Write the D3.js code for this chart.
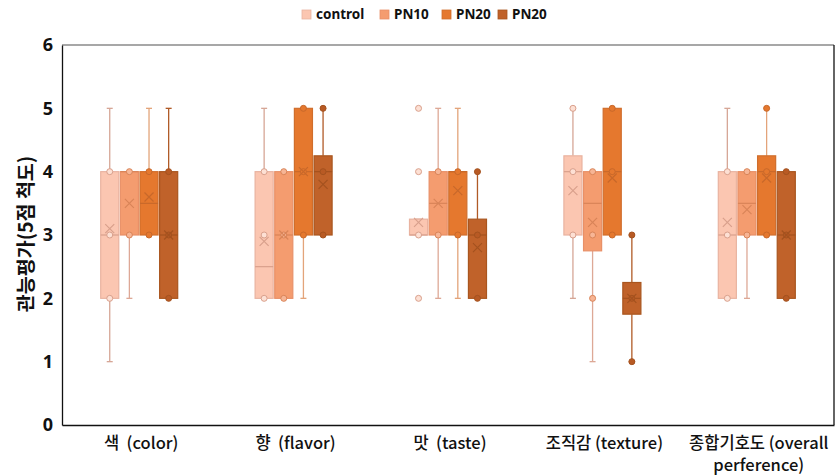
<!DOCTYPE html>
<html><head><meta charset="utf-8">
<script src="https://cdn.jsdelivr.net/npm/d3@7"></script>
<style>
html,body{margin:0;padding:0;background:#fff;}
text{font-family:"Noto Sans CJK KR","Noto Sans",sans-serif;}
</style></head>
<body>
<svg id="chart" width="838" height="476"></svg>
<script>
const categories = ["색\u00a0\u00a0(color)", "향\u00a0\u00a0(flavor)", "맛\u00a0\u00a0(taste)", "조직감 (texture)", "종합기호도 (overall|perference)"];
const seriesNames = ["control", "PN10", "PN20", "PN20"];
const yTicks = [0, 1, 2, 3, 4, 5, 6];

// per-series stats, one value per category
const whiskerLow  = [[1,2,3,2,2],[2,2,2,1,2],[3,2,2,3,3],[2,3,2,1,2]];
const q1          = [[2,2,3,3,2],[3,2,3,2.75,3],[3,3,3,3,3],[2,3,2,1.75,2]];
const median      = [[3,2.5,3,4,3],[4,3,3.5,3.5,3.5],[3.5,4,4,4,4],[3,4,3,2,3]];
const q3          = [[4,4,3.25,4.25,4],[4,4,4,4,4],[4,5,4,5,4.25],[4,4.25,3.25,2.25,4]];
const whiskerHigh = [[5,5,3.25,5,5],[4,4,5,4,4],[5,5,5,5,5],[5,5,4,3,4]];
const means       = [[3.1,2.9,3.2,3.7,3.2],[3.5,3,3.5,3.2,3.4],[3.6,4,3.7,3.9,3.9],[3,3.8,2.8,2,3]];
const points      = [
  [[4,3,2],[4,3,2],[5,4,3,2],[5,4,3],[4,3,2]],
  [[4,3],[4,3,2],[4,3],[4,3,2],[4,3]],
  [[4,3],[5,4,3],[4,3],[5,4,3],[5,4,3]],
  [[4,3,2],[5,4,3],[4,3,2],[3,2,1],[4,3,2]]
];

const fills   = ["#FBC6B1", "#F49C6F", "#E5782E", "#C0622A"];
const strokes = ["#E9B3A0", "#E89068", "#D06E2C", "#A9561F"];
const darkLn  = ["#D9A08C", "#D98458", "#C8682A", "#A4521F"];
const whiskC  = ["#D6A696", "#DDA896", "#E3A47A", "#B05A26"];
const ptFill  = ["#FDE0D4", "#F7B595", "#E5782E", "#B85A24"];

const svg = d3.select("#chart");
const L = 62, R = 834, T = 45, B = 425;

const x = d3.scaleBand().domain(d3.range(categories.length)).range([L, R]);
const inner = d3.scaleBand().domain(d3.range(seriesNames.length)).range([-38.5, 38.5]).paddingInner(0.08);
const y = d3.scaleLinear().domain([0, 6]).range([B, T]);

// frame
svg.append("line").attr("x1", L).attr("x2", R).attr("y1", T).attr("y2", T).attr("stroke", "#8a8a8a").attr("stroke-width", 1.3);
svg.append("line").attr("x1", R).attr("x2", R).attr("y1", T).attr("y2", B).attr("stroke", "#111").attr("stroke-width", 1.3);

// y axis
const yAxis = d3.axisLeft(y).tickValues(yTicks).tickSize(0).tickPadding(9).tickFormat(d3.format("d"));
const gy = svg.append("g").attr("transform", `translate(${L},0)`).call(yAxis);
gy.select(".domain").attr("stroke", "#111").attr("stroke-width", 1.3);
gy.selectAll("text").attr("font-size", 18).attr("font-weight", "bold").attr("fill", "#111")
  .style("font-family", '"Noto Sans","Noto Sans CJK KR",sans-serif');

// x axis line
const xAxis = d3.axisBottom(x).tickSize(0).tickFormat("");
const gx = svg.append("g").attr("transform", `translate(0,${B})`).call(xAxis);
gx.select(".domain").attr("stroke", "#111").attr("stroke-width", 1.3);

// x labels
categories.forEach((c, i) => {
  const lines = c.split("|");
  const cx = x(i) + x.bandwidth() / 2 + 2;
  const t = svg.append("text").attr("x", cx).attr("y", 449)
    .attr("text-anchor", "middle").attr("font-size", 16.5).attr("fill", "#111")
    .attr("font-weight", 500);
  lines.forEach((ln, k) => {
    t.append("tspan").attr("x", cx).attr("dy", k === 0 ? 0 : 22).text(ln);
  });
});

// y title
svg.append("text").attr("transform", "translate(33,234) rotate(-90)")
  .attr("text-anchor", "middle").attr("font-size", 19.5).attr("font-weight", "bold").attr("fill", "#111")
  .text("관능평가(5점 척도)");

// boxes
const bw = inner.bandwidth();
seriesNames.forEach((s, si) => {
  const g = svg.append("g");
  categories.forEach((c, ci) => {
    const cx = x(ci) + x.bandwidth() / 2 + inner(si) + bw / 2;
    g.append("line").attr("x1", cx).attr("x2", cx).attr("y1", y(whiskerHigh[si][ci])).attr("y2", y(q3[si][ci]))
      .attr("stroke", whiskC[si]).attr("stroke-width", 1.3);
    g.append("line").attr("x1", cx).attr("x2", cx).attr("y1", y(whiskerLow[si][ci])).attr("y2", y(q1[si][ci]))
      .attr("stroke", whiskC[si]).attr("stroke-width", 1.3);
    [whiskerHigh[si][ci], whiskerLow[si][ci]].forEach(v => {
      g.append("line").attr("x1", cx - 3).attr("x2", cx + 3).attr("y1", y(v)).attr("y2", y(v))
        .attr("stroke", whiskC[si]).attr("stroke-width", 1.3);
    });
    g.append("rect").attr("x", cx - bw / 2).attr("width", bw)
      .attr("y", y(q3[si][ci])).attr("height", y(q1[si][ci]) - y(q3[si][ci]))
      .attr("fill", fills[si]).attr("stroke", strokes[si]).attr("stroke-width", 1.2);
    g.append("line").attr("x1", cx - bw / 2).attr("x2", cx + bw / 2)
      .attr("y1", y(median[si][ci])).attr("y2", y(median[si][ci]))
      .attr("stroke", darkLn[si]).attr("stroke-width", 1.2);
    points[si][ci].forEach(v => {
      g.append("circle").attr("cx", cx).attr("cy", y(v)).attr("r", 3)
        .attr("fill", ptFill[si]).attr("stroke", darkLn[si]).attr("stroke-width", 1);
    });
    const my = y(means[si][ci]), d = 4.5;
    g.append("path").attr("d", `M${cx - d},${my - d}L${cx + d},${my + d}M${cx - d},${my + d}L${cx + d},${my - d}`)
      .attr("stroke", darkLn[si]).attr("stroke-width", 1.2).attr("fill", "none");
  });
});

// legend
const legX = [302, 380, 442, 498];
seriesNames.forEach((s, i) => {
  svg.append("rect").attr("x", legX[i]).attr("y", 10).attr("width", 9).attr("height", 9)
    .attr("fill", fills[i]).attr("stroke", strokes[i]).attr("stroke-width", 0.8);
  svg.append("text").attr("x", legX[i] + 14).attr("y", 19).attr("font-size", 13.5).attr("font-weight", "bold")
    .attr("fill", "#111").style("font-family", '"Noto Sans","Noto Sans CJK KR",sans-serif').text(s);
});
</script>
</body></html>
